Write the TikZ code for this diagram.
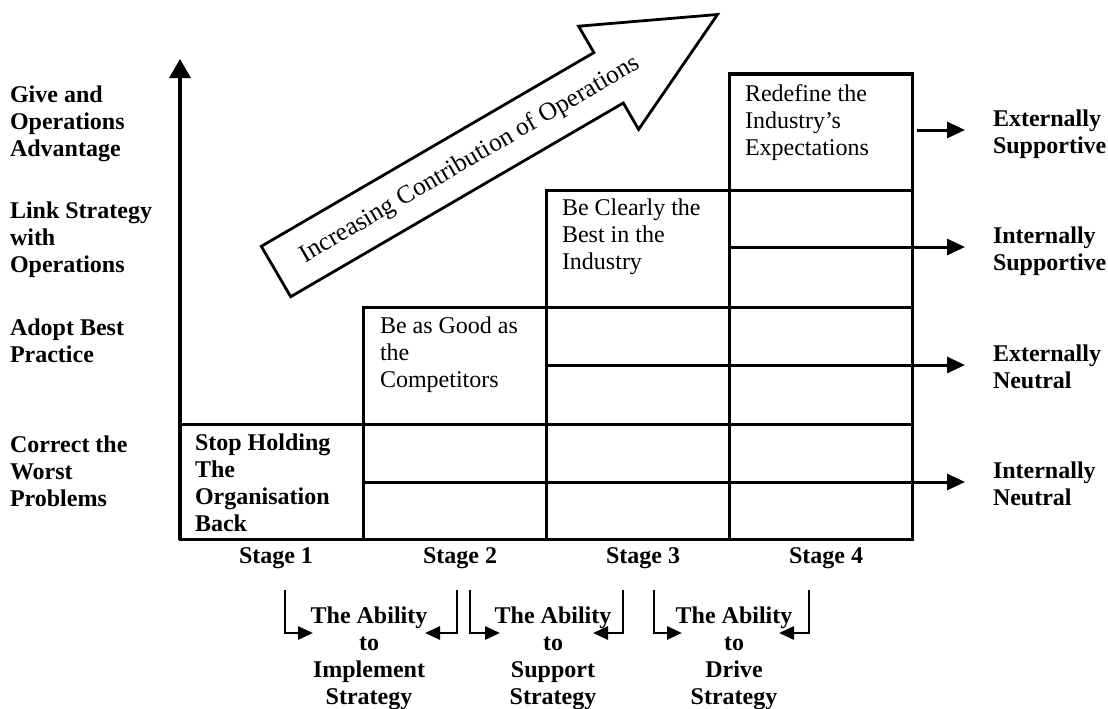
\documentclass[tikz,border=0pt]{standalone}
\usepackage{fontspec}
\setmainfont{Liberation Serif}
\usetikzlibrary{arrows.meta}
\begin{document}
\begin{tikzpicture}[x=1pt,y=-1pt,
  every node/.style={inner sep=0pt,outer sep=0pt},
  txt/.style={font=\fontsize{24}{27}\selectfont},
  boldtxt/.style={font=\fontsize{24}{27}\selectfont\bfseries},
  sidelabel/.style={boldtxt,align=left,anchor=base west},
  celltext/.style={txt,align=left,anchor=base west},
  stagelabel/.style={boldtxt,anchor=base},
  abilitylabel/.style={boldtxt,align=center,anchor=base},
  gridline/.style={line width=3pt,line cap=rect},
  flowline/.style={line width=3pt,-{Triangle[length=18pt,width=16pt]}},
  bracketline/.style={line width=2.8pt,-{Triangle[length=15pt,width=13pt]}},
  bigarrow/.style={line width=2.8pt,line join=miter,fill=white}
]
\useasboundingbox (0,0) rectangle (1108,709);

% vertical axis
\coordinate (axisfoot) at (180,540);
\coordinate (axistip) at (180,59);
\draw[line width=3.2pt,-{Triangle[length=19pt,width=21pt]}] (axisfoot) -- (axistip);

% staircase of stages
\draw[gridline] (180,539) -- (912,539) -- (912,74) -- (729,74) -- (729,539);
\draw[gridline] (180,424) -- (912,424);
\draw[gridline] (363,539) -- (363,307) -- (912,307);
\draw[gridline] (546,539) -- (546,190) -- (912,190);

% level arrows to the right
\coordinate (inA) at (363,482);  \coordinate (inB) at (965,482);
\coordinate (enA) at (546,365);  \coordinate (enB) at (965,365);
\coordinate (isA) at (729,247);  \coordinate (isB) at (965,247);
\coordinate (esA) at (917,130);  \coordinate (esB) at (965,130);
\draw[flowline] (inA) -- (inB);
\draw[flowline] (enA) -- (enB);
\draw[flowline] (isA) -- (isB);
\draw[flowline] (esA) -- (esB);

% big arrow
\draw[bigarrow] (261.3,246.3) -- (593.9,52.6) -- (578.6,26.2) -- (717.5,14.5)
  -- (638.6,129.4) -- (623.3,103) -- (290.7,296.7) -- cycle;
\node[font=\fontsize{25.5}{27}\selectfont,rotate=30.2] (contribution) at (470,160) {Increasing Contribution of Operations};

% left-hand levels (positions give the baseline of the last line)
\node[sidelabel] (lev4) at (10,156) {Give and\\Operations\\Advantage};
\node[sidelabel] (lev3) at (10,272) {Link Strategy\\with\\Operations};
\node[sidelabel] (lev2) at (10,362) {Adopt Best\\Practice};
\node[sidelabel] (lev1) at (10,506) {Correct the\\Worst\\Problems};

% stage contents
\node[celltext,font=\fontsize{24}{27}\selectfont\bfseries] (c1) at (195,531) {Stop Holding\\The\\Organisation\\Back};
\node[celltext] (c2) at (380,387) {Be as Good as\\the\\Competitors};
\node[celltext] (c3) at (562,269) {Be Clearly the\\Best in the\\Industry};
\node[celltext] (c4) at (745,155) {Redefine the\\Industry's\\Expectations};

% right-hand outcomes
\node[sidelabel] (r4) at (993,153) {Externally\\Supportive};
\node[sidelabel] (r3) at (993,270) {Internally\\Supportive};
\node[sidelabel] (r2) at (993,388) {Externally\\Neutral};
\node[sidelabel] (r1) at (993,505) {Internally\\Neutral};

% stage names
\node[stagelabel] (s1) at (276,563) {Stage 1};
\node[stagelabel] (s2) at (460,563) {Stage 2};
\node[stagelabel] (s3) at (643,563) {Stage 3};
\node[stagelabel] (s4) at (826,563) {Stage 4};

% transitions between stages
\node[abilitylabel] (t1) at (369,704) {The Ability\\to\\Implement\\Strategy};
\node[abilitylabel] (t2) at (553,704) {The Ability\\to\\Support\\Strategy};
\node[abilitylabel] (t3) at (734,704) {The Ability\\to\\Drive\\Strategy};

\coordinate (b1l) at (285,590); \coordinate (b1lt) at (313,633);
\coordinate (b1r) at (457,590); \coordinate (b1rt) at (425,633);
\coordinate (b2l) at (470,590); \coordinate (b2lt) at (500,633);
\coordinate (b2r) at (623,590); \coordinate (b2rt) at (593,633);
\coordinate (b3l) at (654,590); \coordinate (b3lt) at (682,633);
\coordinate (b3r) at (809,590); \coordinate (b3rt) at (779,633);
\draw[bracketline] (b1l) |- (b1lt);
\draw[bracketline] (b1r) |- (b1rt);
\draw[bracketline] (b2l) |- (b2lt);
\draw[bracketline] (b2r) |- (b2rt);
\draw[bracketline] (b3l) |- (b3lt);
\draw[bracketline] (b3r) |- (b3rt);
\end{tikzpicture}
\end{document}
